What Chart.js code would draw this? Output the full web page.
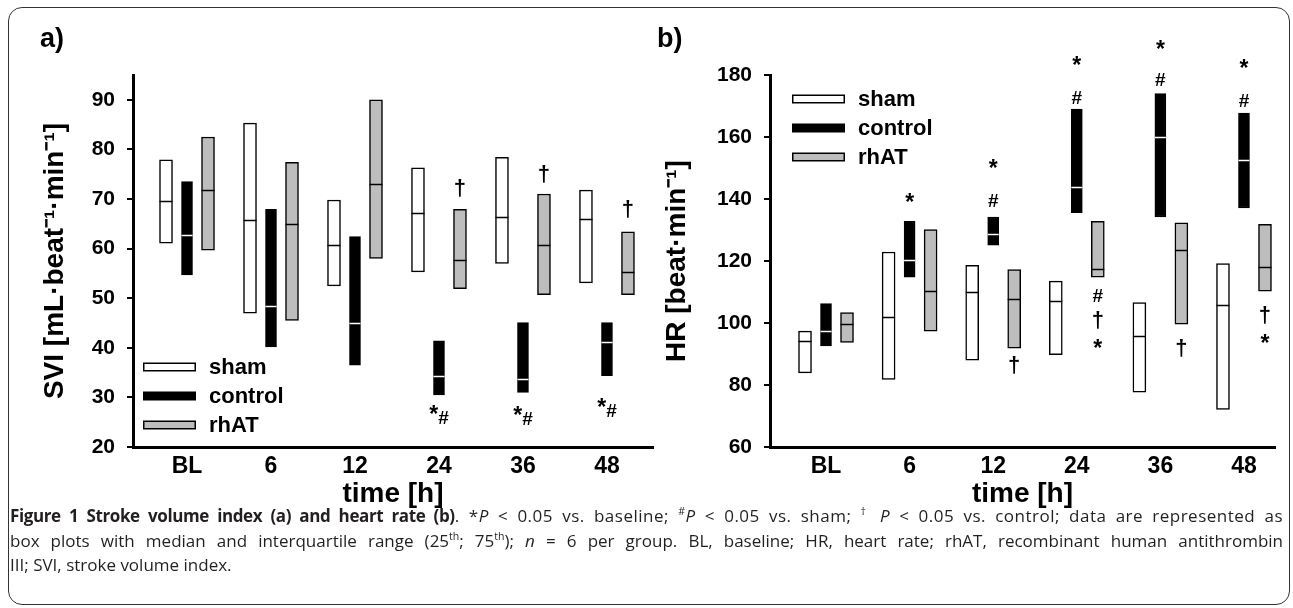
<!DOCTYPE html>
<html><head><meta charset="utf-8">
<script src="https://cdn.jsdelivr.net/npm/chart.js@4/dist/chart.umd.min.js"></script>
<style>
html,body{margin:0;padding:0;background:#fff;}
#page{position:relative;width:1293px;height:608px;overflow:hidden;font-family:'Liberation Sans',Arial,sans-serif;}
#frame{position:absolute;left:8px;top:7px;width:1282px;height:598px;border:1.5px solid #333;border-radius:14px;box-sizing:border-box;}
.wrap{position:absolute;top:0;height:515px;}
#wa{left:0;width:660px;}
#wb{left:640px;width:653px;}
.panel{position:absolute;top:24px;font:bold 27px 'Liberation Sans',Arial,sans-serif;line-height:28px;color:#000;}
#caption{position:absolute;left:10px;top:504px;width:1273px;font-family:'Open Sans',sans-serif;font-size:17px;line-height:24.5px;color:#231f20;}
#caption .ln{text-align:justify;text-align-last:justify;}
#caption .l1{letter-spacing:0.5px;}
#caption .l1 b{letter-spacing:-0.4px;}
#caption sup{font-size:0.62em;vertical-align:super;line-height:0;}
</style></head>
<body>
<div id="page">
  <div id="frame"></div>
  <div class="wrap" id="wa"><canvas id="ca"></canvas></div>
  <div class="wrap" id="wb"><canvas id="cb"></canvas></div>
  <div class="panel" style="left:40px">a)</div>
  <div class="panel" style="left:657px">b)</div>
  <div id="caption">
    <div class="ln l1"><b>Figure 1 Stroke volume index (a) and heart rate (b)</b>. *<i>P</i> &lt; 0.05 vs. baseline; <sup>#</sup><i>P</i> &lt; 0.05 vs. sham; <sup>†</sup> <i>P</i> &lt; 0.05 vs. control; data are represented as</div>
    <div class="ln">box plots with median and interquartile range (25<sup>th</sup>; 75<sup>th</sup>); <i>n</i> = 6 per group. BL, baseline; HR, heart rate; rhAT, recombinant human antithrombin</div>
    <div>III; SVI, stroke volume index.</div>
  </div>
</div>
<script>
// ---- categories / series ----
const categories = ['BL', '6', '12', '24', '36', '48'];
const seriesNames = ['sham', 'control', 'rhAT'];

// ---- a) SVI [mL·beat-1·min-1]: 25th, 75th percentile and median ----
const sviShamQ1   = [61.1, 47.0, 52.5, 55.3, 57.0, 53.1];
const sviShamQ3   = [77.9, 85.3, 69.8, 76.3, 78.4, 71.8];
const sviShamMed  = [69.5, 65.8, 60.8, 67.1, 66.3, 66.0];
const sviCtrlQ1   = [54.7, 40.2, 36.5, 30.5, 31.0, 34.4];
const sviCtrlQ3   = [73.5, 67.9, 62.4, 41.4, 45.1, 45.1];
const sviCtrlMed  = [62.8, 48.4, 45.1, 34.3, 33.7, 41.2];
const sviRhatQ1   = [59.7, 45.5, 58.0, 51.9, 50.7, 50.7];
const sviRhatQ3   = [82.5, 77.4, 90.0, 67.9, 71.0, 63.4];
const sviRhatMed  = [71.8, 65.0, 73.0, 57.7, 60.8, 55.3];

// ---- b) HR [beat·min-1] ----
const hrShamQ1  = [83.9, 81.8, 88.0, 89.8, 77.7, 72.1];
const hrShamQ3  = [97.4, 122.9, 118.6, 113.5, 106.6, 119.2];
const hrShamMed = [94.2, 101.9, 110.0, 107.1, 95.7, 105.9];
const hrCtrlQ1  = [92.6, 114.8, 125.1, 135.6, 134.2, 137.1];
const hrCtrlQ3  = [106.3, 132.8, 134.2, 169.0, 174.0, 167.7];
const hrCtrlMed = [97.4, 120.2, 128.8, 143.9, 160.0, 152.7];
const hrRhatQ1  = [93.7, 97.4, 91.9, 114.8, 99.6, 110.3];
const hrRhatQ3  = [103.4, 130.1, 117.2, 132.8, 132.3, 131.8];
const hrRhatMed = [99.6, 110.3, 107.9, 117.5, 123.7, 118.1];

// ---- significance marks: [category index, series index, value, text] ----
const sviMarks = [
  [3, 2, 72.2, '†'], [4, 2, 75.1, '†'], [5, 2, 68.0, '†'],
  [3, 1, 26.7, '*#'], [4, 1, 26.5, '*#'], [5, 1, 28.2, '*#']
];
const hrMarks = [
  [1, 1, 140.6, '*'],
  [2, 1, 151.5, '*'], [2, 1, 139.6, '#'],
  [3, 1, 184.7, '*'], [3, 1, 172.8, '#'],
  [4, 1, 190.0, '*'], [4, 1, 178.6, '#'],
  [5, 1, 183.7, '*'], [5, 1, 171.8, '#'],
  [2, 2, 86.4, '†'],
  [3, 2, 108.9, '#'], [3, 2, 100.9, '†'], [3, 2, 93.4, '*'],
  [4, 2, 91.8, '†'],
  [5, 2, 102.5, '†'], [5, 2, 95.1, '*']
];

const FONT = "'Liberation Sans', Arial, sans-serif";
Chart.defaults.font.family = FONT;
Chart.defaults.color = '#000';

const styles = [
  {bg: '#ffffff', border: '#000000', median: '#000000', thick: 13},
  {bg: '#000000', border: '#000000', median: '#ffffff', thick: 11},
  {bg: '#bdbdbd', border: '#000000', median: '#000000', thick: 13}
];

function buildDatasets(q1s, q3s, meds) {
  return seriesNames.map((name, s) => ({
    label: name,
    data: categories.map((c, i) => ({x: i, y: [q1s[s][i], q3s[s][i]]})),
    medians: meds[s],
    medianColor: styles[s].median,
    backgroundColor: styles[s].bg,
    borderColor: styles[s].border,
    borderWidth: 1.5,
    borderSkipped: false,
    barThickness: 21,
    maxBarThickness: styles[s].thick
  }));
}

const medianLines = {
  id: 'medianLines',
  afterDatasetsDraw(chart) {
    const {ctx} = chart;
    const ys = chart.scales.y;
    ctx.save();
    chart.data.datasets.forEach((ds, i) => {
      const meta = chart.getDatasetMeta(i);
      meta.data.forEach((bar, j) => {
        const y = Math.round(ys.getPixelForValue(ds.medians[j])) + 0.5;
        ctx.strokeStyle = ds.medianColor;
        ctx.lineWidth = 1.5;
        ctx.beginPath();
        ctx.moveTo(bar.x - bar.width / 2, y);
        ctx.lineTo(bar.x + bar.width / 2, y);
        ctx.stroke();
      });
    });
    ctx.restore();
  }
};

const sigMarks = {
  id: 'sigMarks',
  afterDatasetsDraw(chart, args, opts) {
    const {ctx} = chart;
    const ys = chart.scales.y;
    ctx.save();
    ctx.fillStyle = '#000';
    ctx.textAlign = 'left';
    ctx.textBaseline = 'alphabetic';
    const fontFor = t => t === '*' ? opts.starFont : (t === '†' ? opts.daggerFont : opts.font);
    const drawInk = (t, x, cy) => {
      ctx.font = fontFor(t);
      const m = ctx.measureText(t);
      const y = cy + (m.actualBoundingBoxAscent - m.actualBoundingBoxDescent) / 2;
      ctx.fillText(t, x, y);
      return m.width;
    };
    const widthOf = t => { ctx.font = fontFor(t); return ctx.measureText(t).width; };
    (opts.marks || []).forEach(([cat, ser, val, text]) => {
      const bar = chart.getDatasetMeta(ser).data[cat];
      const cx = bar.x;
      const cy = ys.getPixelForValue(val);
      const chars = Array.from(text);
      const w = chars.reduce((a, ch) => a + widthOf(ch), 0);
      let x = cx - w / 2;
      chars.forEach((ch, k) => {
        const dy = chars.length === 1 ? 0 : (k === 0 ? -4 : 4);
        x += drawInk(ch, x, cy + dy);
      });
    });
    ctx.restore();
  }
};

const boxLegend = {
  id: 'boxLegend',
  afterDraw(chart, args, opts) {
    const {ctx, chartArea} = chart;
    ctx.save();
    ctx.font = opts.font;
    ctx.textBaseline = 'middle';
    ctx.textAlign = 'left';
    chart.data.datasets.forEach((ds, i) => {
      const x = chartArea.left + opts.x;
      const y = chartArea.top + opts.y + i * opts.gap;
      ctx.fillStyle = ds.borderColor;
      ctx.fillRect(x, y - opts.h / 2, opts.w, opts.h);
      ctx.fillStyle = ds.backgroundColor;
      ctx.fillRect(x + 1.5, y - opts.h / 2 + 1.5, opts.w - 3, opts.h - 3);
      ctx.fillStyle = '#000';
      ctx.fillText(ds.label, x + opts.w + opts.textGap, y + 1);
    });
    ctx.restore();
  }
};

function makeChart(canvas, cfg) {
  return new Chart(canvas, {
    type: 'bar',
    data: {datasets: buildDatasets(cfg.q1, cfg.q3, cfg.med)},
    plugins: [medianLines, sigMarks, boxLegend],
    options: {
      responsive: true,
      maintainAspectRatio: false,
      animation: false,
      devicePixelRatio: 1,
      layout: {padding: {left: 0, top: 75, right: cfg.padRight, bottom: 0}},
      plugins: {
        legend: {display: false},
        tooltip: {enabled: false},
        sigMarks: {marks: cfg.marks, font: 'bold 19px ' + FONT, starFont: 'bold 23px ' + FONT, daggerFont: 'bold 22px ' + FONT},
        boxLegend: {x: cfg.legX, y: cfg.legY, gap: 29, w: 53, h: 9, textGap: 13, font: 'bold 22px ' + FONT}
      },
      scales: {
        x: {
          type: 'linear',
          min: cfg.xmin, max: cfg.xmax,
          offset: false,
          grid: {display: false, drawTicks: false},
          border: {display: true, color: '#000', width: 3},
          ticks: {
            stepSize: 1, includeBounds: false, autoSkip: false, maxRotation: 0,
            padding: 6, color: '#000', font: {size: 23, weight: 'bold'},
            callback: v => (Number.isInteger(v) && categories[v] !== undefined) ? categories[v] : ''
          },
          title: {display: true, text: 'time [h]', color: '#000', font: {size: 28, weight: 'bold'}, padding: {top: 0, bottom: 4}},
          afterFit: s => { s.height = 68; }
        },
        y: {
          min: cfg.ymin, max: cfg.ymax,
          ticks: {stepSize: cfg.ystep, includeBounds: false, padding: 12, color: '#000', font: {size: 21, weight: 'bold'}},
          grid: {drawOnChartArea: false, drawTicks: true, tickLength: 6, color: '#000', lineWidth: 2},
          border: {display: true, color: '#000', width: 3},
          title: {display: true, text: cfg.yTitle, color: '#000', font: {size: 28, weight: 'bold'}, padding: {top: cfg.yTitlePad, bottom: 0}},
          afterFit: s => { s.width = cfg.yWidth; }
        }
      }
    }
  });
}

makeChart(document.getElementById('ca'), {
  q1: [sviShamQ1, sviCtrlQ1, sviRhatQ1],
  q3: [sviShamQ3, sviCtrlQ3, sviRhatQ3],
  med: [sviShamMed, sviCtrlMed, sviRhatMed],
  marks: sviMarks,
  xmin: -0.643, xmax: 5.548,
  ymin: 20, ymax: 95, ystep: 10,
  yTitle: 'SVI [mL\u00B7beat\u207B\u00B9\u00B7min\u207B\u00B9]',
  yTitlePad: 38, yWidth: 133, padRight: 7,
  legX: 10, legY: 292
});

makeChart(document.getElementById('cb'), {
  q1: [hrShamQ1, hrCtrlQ1, hrRhatQ1],
  q3: [hrShamQ3, hrCtrlQ3, hrRhatQ3],
  med: [hrShamMed, hrCtrlMed, hrRhatMed],
  marks: hrMarks,
  xmin: -0.670, xmax: 5.371,
  ymin: 60, ymax: 180, ystep: 20,
  yTitle: 'HR [beat\u00B7min\u207B\u00B9]',
  yTitlePad: 20, yWidth: 130, padRight: 18,
  legX: 22, legY: 24
});
</script>
</body></html>
